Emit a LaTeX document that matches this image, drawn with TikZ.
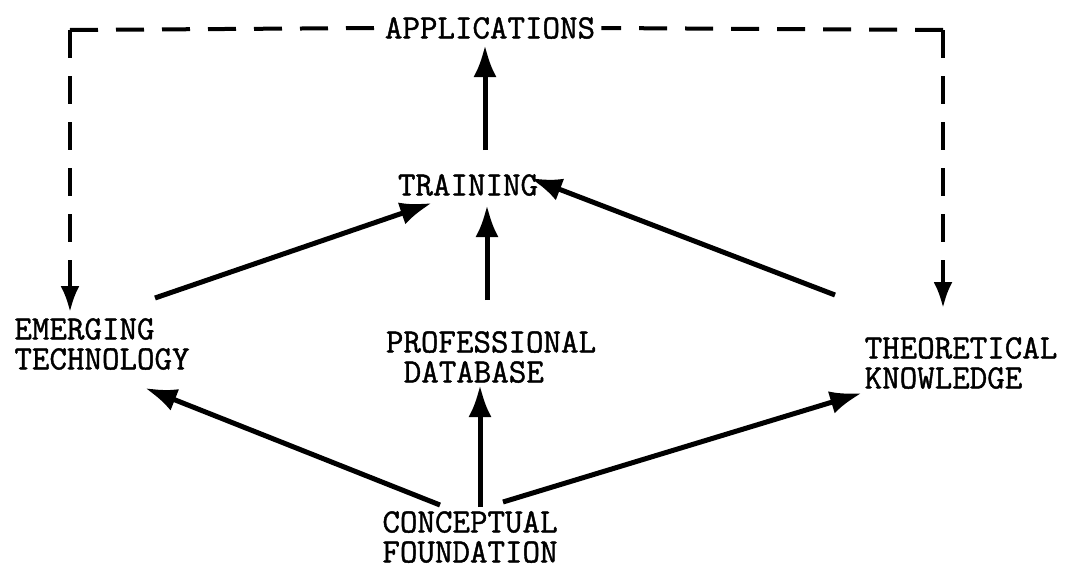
\documentclass[tikz,border=0pt]{standalone}
\usepackage{fontspec}
\newfontfamily\edfont{Latin Modern Mono}[FakeBold=1.2]
\usetikzlibrary{arrows.meta}

\begin{document}
\begin{tikzpicture}[x=1pt,y=-1pt]
        \tikzset{
        ed node/.style={inner sep=0,font=\edfont\fontsize{34}{30}\selectfont,align=left},
        ed edge/.style={line width=5pt,-{Latex[length=32pt,width=23pt]}},
        ed dash/.style={line width=4pt,dash pattern=on 28pt off 18pt,-{Latex[length=26pt,width=19pt]}}
        }
        \useasboundingbox (0,0) rectangle (1065,573);
        \node[ed node] (app) at (490,28) {APPLICATIONS};
        \node[ed node] (train) at (468,185) {TRAINING};
        \node[ed node] (emerg) at (102,344) {EMERGING\\TECHNOLOGY};
        \node[ed node] (prof) at (491,357) {PROFESSIONAL\\\hspace*{0.525em}DATABASE};
        \node[ed node] (theo) at (961,363) {THEORETICAL\\KNOWLEDGE};
        \node[ed node] (conc) at (470,537) {CONCEPTUAL\\FOUNDATION};
        \coordinate (cl) at (70,30);
        \coordinate (cr) at (943,30);

        \path[draw]
        ([shift={(17,-35)}]train.center) edge[ed edge] ([shift={(-5,17)}]app.center)
        ([shift={(-4,-57)}]prof.center) edge[ed edge] ([shift={(19,20)}]train.center)
        ([shift={(53,-46)}]emerg.center) edge[ed edge] ([shift={(-36,18)}]train.center)
        ([shift={(-126,-68)}]theo.center) edge[ed edge] ([shift={(62,-7)}]train.center)
        ([shift={(-30,-32)}]conc.center) edge[ed edge] ([shift={(43,44)}]emerg.center)
        ([shift={(10,-30)}]conc.center) edge[ed edge] ([shift={(-11,28)}]prof.center)
        ([shift={(33,-35)}]conc.center) edge[ed edge] ([shift={(-99,30)}]theo.center)
        ;
        % feedback from applications
        \draw[ed dash,-] (cl) -- ([xshift=-6pt]app.west);
        \draw[ed dash] (cl) -- ([shift={(-32,-32)}]emerg.center);
        \draw[ed dash,-] (cr) -- ([xshift=6pt]app.east);
        \draw[ed dash] (cr) -- ([shift={(-18,-55)}]theo.center);
    \end{tikzpicture}
\end{document}
